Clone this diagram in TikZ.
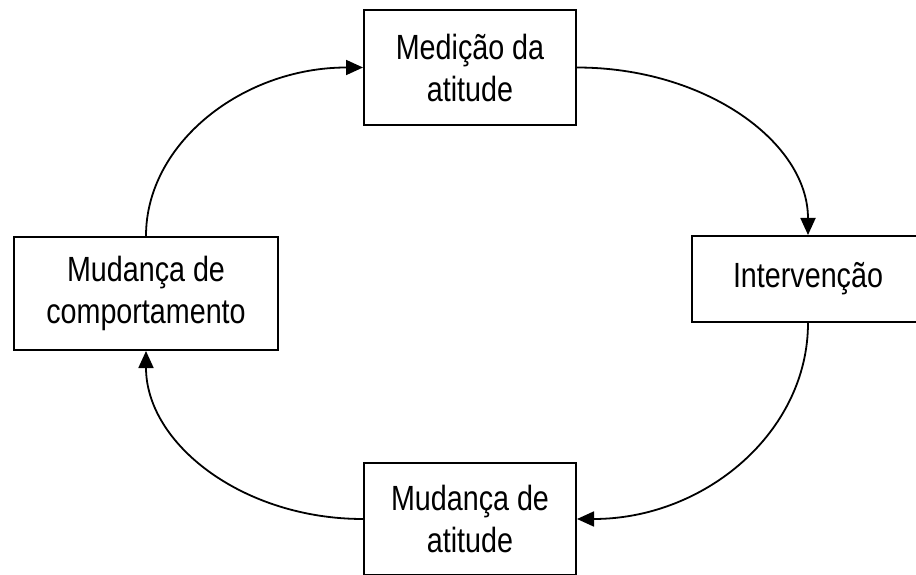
\documentclass[tikz,border=0pt]{standalone}
\usepackage{fontspec}
\setmainfont{Liberation Sans}[FakeStretch=0.82]
\usetikzlibrary{arrows.meta}
\tikzset{
  box/.style={draw=black, line width=2pt, fill=white, align=center, inner sep=0pt,
    font=\fontsize{35pt}{42pt}\selectfont},
  flow/.style={line width=1.8pt, -{Triangle[length=17pt,width=15pt]}}
}
\begin{document}
\begin{tikzpicture}[x=1pt,y=1pt]
\useasboundingbox (0,0) rectangle (916,574);
\clip (0,0) rectangle (916,574);
\node[box, minimum width=212pt, minimum height=115pt] (med) at (470,506.5) {Medição da\\atitude};
\node[box, minimum width=232pt, minimum height=86pt] (int) at (808,295) {Intervenção};
\node[box, minimum width=212pt, minimum height=112pt] (mat) at (470,55) {Mudança de\\atitude};
\node[box, minimum width=264pt, minimum height=113pt] (mco) at (146,280.5) {Mudança de\\comportamento};
\draw[flow] (med.east) to[out=0,in=90,out distance=128pt,in distance=93pt] (int.north);
\draw[flow] (int.south) to[out=-90,in=0,out distance=109pt,in distance=128pt] (mat.east);
\draw[flow] (mat.west) to[out=180,in=-90,out distance=120pt,in distance=93pt] (mco.south);
\draw[flow] (mco.north) to[out=90,in=180,out distance=93pt,in distance=120pt] (med.west);
\end{tikzpicture}
\end{document}
